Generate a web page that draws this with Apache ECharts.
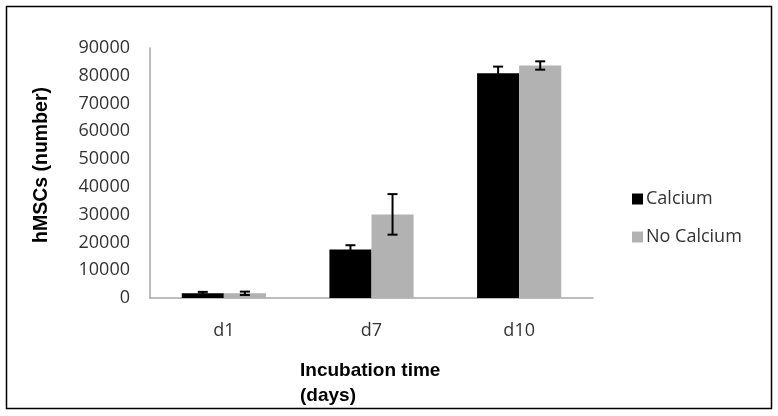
<!DOCTYPE html>
<html>
<head>
<meta charset="utf-8">
<script src="https://cdn.jsdelivr.net/npm/echarts@6/dist/echarts.min.js"></script>
<style>
html,body{margin:0;padding:0;background:#fff;}
#c{width:778px;height:416px;}
</style>
</head>
<body>
<div id="c"></div>
<script>
const categories = ['d1', 'd7', 'd10'];
const calcium = [1700, 17500, 80900];
const calciumErr = [500, 1500, 2400];
const noCalcium = [1700, 30100, 83700];
const noCalciumErr = [600, 7300, 1500];
const yTicks = [0, 10000, 20000, 30000, 40000, 50000, 60000, 70000, 80000, 90000];

const chart = echarts.init(document.getElementById('c'), null, {renderer: 'canvas'});
const catGap = 0.43;

function errSeries(name, vals, errs, sign) {
  return {
    type: 'custom',
    name: name + ' err',
    data: vals.map((v, i) => [i, v - errs[i], v + errs[i]]),
    z: 10,
    silent: true,
    renderItem: function (params, api) {
      const idx = api.value(0);
      const lo = api.coord([idx, api.value(1)]);
      const hi = api.coord([idx, api.value(2)]);
      const band = api.size([1, 0])[0];
      const bw = band * (1 - catGap) / 2;
      const x = lo[0] + sign * bw / 2;
      const cap = 5;
      const style = {stroke: '#000', lineWidth: 2};
      return {
        type: 'group',
        children: [
          {type: 'line', shape: {x1: x, y1: lo[1], x2: x, y2: hi[1]}, style: style},
          {type: 'line', shape: {x1: x - cap, y1: hi[1], x2: x + cap, y2: hi[1]}, style: style},
          {type: 'line', shape: {x1: x - cap, y1: lo[1], x2: x + cap, y2: lo[1]}, style: style}
        ]
      };
    }
  };
}

chart.setOption({
  animation: false,
  backgroundColor: '#fff',
  grid: {left: 150, right: 185, top: 48, bottom: 118},
  legend: {
    orient: 'vertical',
    left: 627,
    top: 185,
    itemWidth: 11,
    itemHeight: 11,
    itemGap: 20,
    icon: 'rect',
    data: ['Calcium', 'No Calcium'],
    textStyle: {fontFamily: 'Open Sans', fontSize: 18, color: '#333', padding: [0, 0, 0, -2]}
  },
  xAxis: {
    type: 'category',
    data: categories,
    axisLine: {lineStyle: {color: '#a6a6a6', width: 1.5}},
    axisTick: {show: false},
    axisLabel: {fontFamily: 'Open Sans', fontSize: 18, color: '#333', margin: 24}
  },
  yAxis: {
    type: 'value',
    min: 0,
    max: 90000,
    interval: 10000,
    name: 'hMSCs (number)',
    nameLocation: 'middle',
    nameGap: 98,
    nameTextStyle: {fontFamily: 'Liberation Sans', fontWeight: 'bold', fontSize: 19.5, color: '#000', padding: [0, 0, 0, 16]},
    axisLine: {show: true, lineStyle: {color: '#a6a6a6', width: 1.5}},
    axisTick: {show: false},
    splitLine: {show: false},
    axisLabel: {
      fontFamily: 'Open Sans', fontSize: 18, color: '#333', margin: 20,
      formatter: function (v) { return yTicks.indexOf(v) >= 0 ? String(v) : ''; }
    }
  },
  graphic: [
    {type: 'rect', shape: {x: 6.5, y: 6.5, width: 765, height: 402}, style: {fill: 'none', stroke: '#000', lineWidth: 1.5}, silent: true},
    {type: 'text', left: 300, top: 358, style: {text: 'Incubation time\n(days)', fontFamily: 'Liberation Sans', fontWeight: 'bold', fontSize: 19, lineHeight: 25, fill: '#000'}}
  ],
  series: [
    {name: 'Calcium', type: 'bar', data: calcium, barGap: '0%', barCategoryGap: (catGap * 100) + '%', itemStyle: {color: '#000'}},
    {name: 'No Calcium', type: 'bar', data: noCalcium, barGap: '0%', barCategoryGap: (catGap * 100) + '%', itemStyle: {color: '#b2b2b2'}},
    errSeries('Calcium', calcium, calciumErr, -1),
    errSeries('No Calcium', noCalcium, noCalciumErr, 1)
  ]
});
</script>
</body>
</html>
